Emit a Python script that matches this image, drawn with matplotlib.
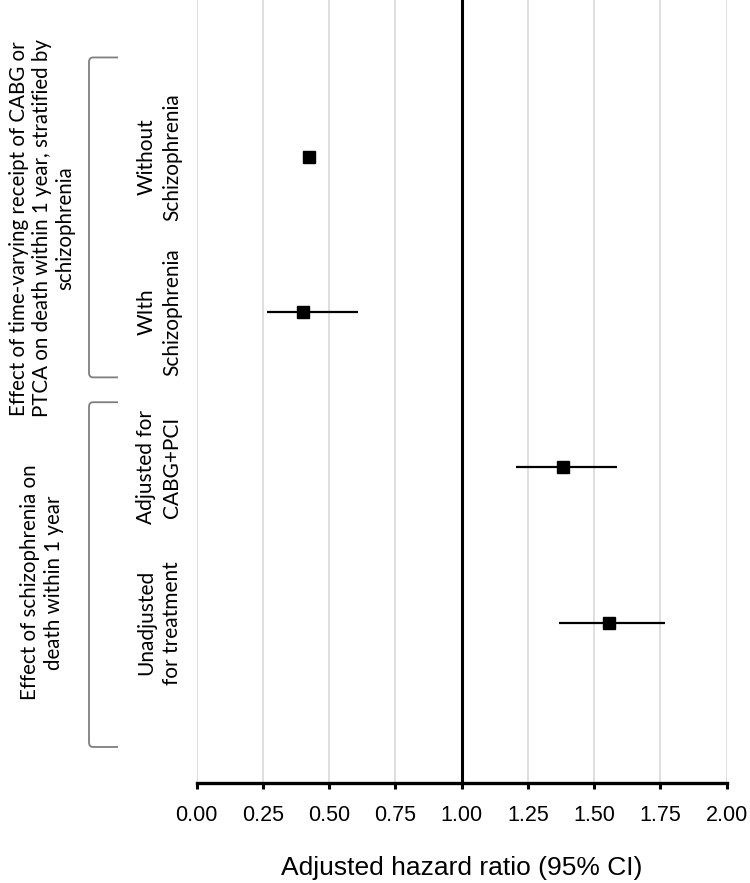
import matplotlib
matplotlib.use("Agg")
import matplotlib.pyplot as plt
import matplotlib.transforms as mtransforms
from matplotlib.path import Path
from matplotlib.patches import PathPatch

# ---- data ----
categories = ["Without\nSchizophrenia", "WIth\nSchizophrenia",
              "Adjusted for\nCABG+PCI", "Unadjusted\nfor treatment"]
hr = [0.425, 0.401, 1.382, 1.556]
ci_low = [0.41, 0.264, 1.205, 1.368]
ci_high = [0.44, 0.607, 1.586, 1.767]
group_labels = ["Effect of time-varying receipt of CABG or\nPTCA on death within 1 year, stratified by\nschizophrenia",
                "Effect of schizophrenia on\ndeath within 1 year"]
xticks = [0.00, 0.25, 0.50, 0.75, 1.00, 1.25, 1.50, 1.75, 2.00]
xlabel = "Adjusted hazard ratio (95% CI)"

W, H = 750, 883
fig = plt.figure(figsize=(W / 100, H / 100), dpi=100)
ax = fig.add_axes([196.7 / W, 1 - 782.7 / H, 530 / W, 782.7 / H])

ypos = list(range(1, len(categories) + 1))
for y, lo, hi in zip(ypos, ci_low, ci_high):
    ax.plot([lo, hi], [y, y], color="black", lw=1.6, zorder=3, solid_capstyle="butt")
ax.plot(hr, ypos, linestyle="none", marker="s", markersize=8.5, color="black", zorder=4)

ax.axvline(1.0, color="black", lw=2.2, zorder=2)
ax.set_xlim(0, 2)
ax.set_ylim(5.03, -0.01)
ax.set_xticks(xticks)
ax.set_xticklabels([f"{t:.2f}" for t in xticks], fontfamily="Liberation Sans", fontsize=15.5)
ax.set_yticks([])
ax.grid(axis="x", color="#d9d9d9", lw=1.2, zorder=0)
ax.set_axisbelow(True)
for s in ["left", "right", "top"]:
    ax.spines[s].set_visible(False)
ax.spines["bottom"].set_linewidth(2.4)
ax.tick_params(axis="x", direction="out", length=4, width=2.2, pad=12)
ax.set_xlabel(xlabel, fontfamily="Liberation Sans", fontsize=19, labelpad=22)

def fx(px):
    return px / W

tr = mtransforms.blended_transform_factory(fig.transFigure, ax.transData)

for y, lab in zip(ypos, categories):
    fig.text(fx(159), y, lab, transform=tr, rotation=90, ha="center", va="center",
             multialignment="center", fontfamily="Lato", fontsize=15, linespacing=1.35)

group_spans = [(0.36, 2.42), (2.58, 4.80)]
group_centers_y = [1.46, 3.74]
group_x = [42, 42]
for (a, b), cy, gx, lab in zip(group_spans, group_centers_y, group_x, group_labels):
    fig.text(fx(gx), cy, lab, transform=tr, rotation=90, ha="center", va="center",
             multialignment="center", fontfamily="Lato", fontsize=14.8, linespacing=1.2)
    x0, x1 = fx(89), fx(118)
    r = 0.03
    dx = fx(4)
    verts = [(x1, a), (x0 + dx, a), (x0, a), (x0, a + r),
             (x0, b - r), (x0, b), (x0 + dx, b), (x1, b)]
    codes = [Path.MOVETO, Path.LINETO, Path.CURVE3, Path.CURVE3,
             Path.LINETO, Path.CURVE3, Path.CURVE3, Path.LINETO]
    fig.add_artist(PathPatch(Path(verts, codes), transform=tr, fill=False,
                             edgecolor="#7f7f7f", lw=1.3))

fig.savefig("out.png", dpi=100)
